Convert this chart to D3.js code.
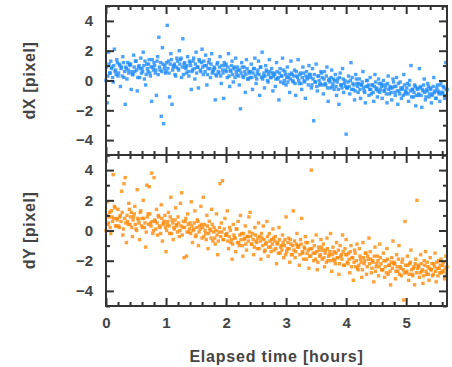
<!DOCTYPE html>
<html>
<head>
<meta charset="utf-8">
<script src="https://cdn.jsdelivr.net/npm/d3@7"></script>
<style>
body { margin: 0; background: #fff; }
text { font-family: "Liberation Sans", Arial, sans-serif; font-weight: bold; fill: #444; }
</style>
</head>
<body>
<svg width="452" height="367"></svg>
<script>
// elapsed time of each frame (hours), even frames
var hours = [
  0.00,0.02,0.04,0.06,0.08,0.10,0.12,0.14,0.16,0.18,
  0.20,0.22,0.24,0.26,0.28,0.30,0.32,0.34,0.36,0.38,
  0.40,0.42,0.44,0.46,0.48,0.50,0.52,0.54,0.56,0.58,
  0.60,0.62,0.64,0.66,0.68,0.70,0.72,0.74,0.76,0.78,
  0.80,0.82,0.84,0.86,0.88,0.90,0.92,0.94,0.96,0.98,
  1.00,1.02,1.04,1.06,1.08,1.10,1.12,1.14,1.16,1.18,
  1.20,1.22,1.24,1.26,1.28,1.30,1.32,1.34,1.36,1.38,
  1.40,1.42,1.44,1.46,1.48,1.50,1.52,1.54,1.56,1.58,
  1.60,1.62,1.64,1.66,1.68,1.70,1.72,1.74,1.76,1.78,
  1.80,1.82,1.84,1.86,1.88,1.90,1.92,1.94,1.96,1.98,
  2.00,2.02,2.04,2.06,2.08,2.10,2.12,2.14,2.16,2.18,
  2.20,2.22,2.24,2.26,2.28,2.30,2.32,2.34,2.36,2.38,
  2.40,2.42,2.44,2.46,2.48,2.50,2.52,2.54,2.56,2.58,
  2.60,2.62,2.64,2.66,2.68,2.70,2.72,2.74,2.76,2.78,
  2.80,2.82,2.84,2.86,2.88,2.90,2.92,2.94,2.96,2.98,
  3.00,3.02,3.04,3.06,3.08,3.10,3.12,3.14,3.16,3.18,
  3.20,3.22,3.24,3.26,3.28,3.30,3.32,3.34,3.36,3.38,
  3.40,3.42,3.44,3.46,3.48,3.50,3.52,3.54,3.56,3.58,
  3.60,3.62,3.64,3.66,3.68,3.70,3.72,3.74,3.76,3.78,
  3.80,3.82,3.84,3.86,3.88,3.90,3.92,3.94,3.96,3.98,
  4.00,4.02,4.04,4.06,4.08,4.10,4.12,4.14,4.16,4.18,
  4.20,4.22,4.24,4.26,4.28,4.30,4.32,4.34,4.36,4.38,
  4.40,4.42,4.44,4.46,4.48,4.50,4.52,4.54,4.56,4.58,
  4.60,4.62,4.64,4.66,4.68,4.70,4.72,4.74,4.76,4.78,
  4.80,4.82,4.84,4.86,4.88,4.90,4.92,4.94,4.96,4.98,
  5.00,5.02,5.04,5.06,5.08,5.10,5.12,5.14,5.16,5.18,
  5.20,5.22,5.24,5.26,5.28,5.30,5.32,5.34,5.36,5.38,
  5.40,5.42,5.44,5.46,5.48,5.50,5.52,5.54,5.56,5.58,
  5.60,5.62,5.64,5.66,5.68
];

// offset in X (pixel), even frames
var dX = [
  0.0,-1.5,1.9,0.5,1.3,0.9,-0.1,2.1,0.7,1.4,
  0.3,1.1,-0.4,0.9,1.6,0.2,-1.6,0.8,1.2,0.5,
  1.0,-0.6,0.4,1.7,0.6,1.3,-0.7,0.9,0.2,1.5,
  0.8,1.9,0.1,-0.3,1.1,0.6,1.4,0.3,-1.4,0.9,
  1.2,0.5,-1.0,1.6,2.9,0.7,-2.4,2.2,-2.9,1.0,
  0.6,3.7,1.3,-1.1,1.8,-1.6,0.9,1.1,0.3,1.5,
  0.8,2.0,1.4,0.2,2.8,1.1,0.9,0.5,1.6,0.3,
  1.2,-0.6,0.7,1.5,0.1,1.9,0.9,-0.5,1.3,0.6,
  2.1,0.4,1.0,1.7,-0.3,0.8,1.4,0.2,1.8,0.6,
  0.9,-1.3,0.3,1.2,0.5,1.6,-0.2,0.7,-1.2,1.0,
  1.1,0.2,1.8,-0.4,0.6,1.3,-0.1,0.9,1.5,0.4,
  0.7,-0.3,-1.9,1.2,0.3,0.9,-0.8,1.4,0.1,0.6,
  0.2,1.1,-0.6,0.8,1.5,-0.2,0.5,1.3,-1.0,0.9,
  1.9,0.3,-0.5,1.0,0.6,-0.1,1.4,0.2,0.8,-0.7,
  0.5,-0.4,1.2,0.1,-1.3,0.8,0.3,1.5,-0.2,0.6,
  -0.3,0.9,0.2,-0.8,1.3,0.4,-0.1,0.7,-1.0,0.3,
  1.4,-0.2,0.5,-0.6,0.9,0.0,-1.2,0.6,0.2,1.0,
  0.4,-0.5,0.8,-2.7,-0.1,1.1,-0.7,0.3,-0.3,0.6,
  0.2,-0.9,0.6,-0.3,0.9,-1.4,0.1,-0.5,0.7,-0.2,
  -0.6,0.4,-1.0,0.1,-1.6,0.5,-0.3,0.8,-0.8,0.0,
  -3.6,-0.5,0.3,-0.9,1.2,0.2,-0.6,-1.3,0.4,-0.2,
  -0.8,0.1,-1.2,-0.3,0.6,-0.7,-1.5,0.0,-0.4,-1.0,
  0.2,-0.9,-0.3,-1.4,0.4,-0.6,-1.1,0.1,-0.8,-0.2,
  -1.2,0.0,-0.7,-0.3,-1.5,0.3,-0.9,-0.5,-1.3,0.1,
  -0.4,-1.0,0.2,-1.6,-0.7,-0.1,-1.2,-0.5,0.4,-0.9,
  -0.8,-0.2,-1.4,0.0,1.0,-0.6,-1.1,-0.3,-1.7,-0.5,
  -1.0,0.8,-0.4,-1.8,-0.7,0.1,-1.3,-0.6,-0.2,-1.1,
  -0.5,-1.5,-0.9,0.2,-0.7,-1.2,-0.3,-0.8,-1.4,-0.1,
  -0.9,-0.4,-1.2,1.2,-0.6
];

// offset in Y (pixel), even frames
var dY = [
  0.0,1.9,0.5,1.2,-0.2,0.9,3.7,1.6,0.3,0.8,
  1.4,0.2,1.0,2.6,-0.3,3.1,3.5,-0.8,0.6,1.8,
  0.4,1.2,-0.4,0.9,1.6,0.1,2.7,0.7,-0.6,1.3,
  0.8,2.0,0.2,-1.1,3.0,1.1,2.9,0.5,3.8,-0.2,
  3.5,0.6,1.4,-0.3,0.9,0.2,1.7,-0.7,0.5,1.0,
  -1.4,0.4,1.2,-0.2,2.2,0.7,-0.6,0.1,1.5,0.3,
  0.9,-0.4,1.8,2.5,0.2,-1.8,0.6,-1.7,1.1,-0.1,
  0.5,1.9,-0.8,0.1,1.3,-0.3,0.7,-1.0,0.3,1.6,
  -0.5,2.2,0.4,-0.2,1.0,-1.2,0.6,0.0,1.4,-0.7,
  0.2,-0.9,1.1,-1.6,-0.1,3.1,0.5,3.3,-0.6,0.8,
  -0.3,1.3,-1.2,0.2,-0.8,-1.9,0.4,-0.5,-1.4,0.1,
  0.6,-1.0,1.0,-0.2,-1.7,-0.6,0.3,-1.3,-0.4,0.9,
  1.2,-0.9,-0.2,-1.6,0.2,-0.7,-1.2,0.5,-0.4,-1.9,
  -0.5,0.3,-1.4,-0.9,0.6,-1.7,-0.2,-1.1,-0.6,0.1,
  -1.3,-0.4,-2.2,-0.8,0.2,-1.5,-1.0,-0.3,-1.8,-0.6,
  0.9,-1.2,-0.5,-2.1,-0.9,-1.6,1.3,-0.7,-1.4,-0.2,
  -1.0,-2.3,-0.6,0.8,-1.5,-1.1,-0.4,-1.9,-0.8,-2.5,
  -1.2,4.0,-0.7,-2.0,-1.5,-0.3,-2.6,-1.1,-1.7,-0.6,
  -1.9,-0.9,-2.4,-1.3,-0.5,-2.0,-1.6,-0.2,-2.7,-1.1,
  -1.4,-2.2,-0.8,-1.8,-2.9,-1.0,-1.6,-0.3,-2.3,-1.2,
  -0.6,-2.1,-1.5,-2.8,-1.0,-1.8,-3.3,-1.3,-2.4,-0.9,
  -2.6,-1.2,-1.9,-3.1,-0.8,-2.2,-1.5,-2.9,-1.7,-0.5,
  -1.4,-2.8,-2.0,-3.4,-1.1,-2.4,-1.7,-3.0,-0.9,-2.2,
  -2.6,-1.5,-3.1,-2.0,-1.2,-2.9,-2.3,-3.6,-1.8,-0.7,
  -2.1,-3.2,-1.6,-2.7,-1.0,-2.4,-3.0,-1.9,-4.6,0.6,
  -2.8,-1.7,-3.3,-2.2,-1.3,-2.9,-2.5,-3.6,-1.9,2.0,
  -2.3,-3.1,-1.6,-2.7,-3.5,-2.0,-1.4,-2.9,-2.4,-3.3,
  -1.8,-2.6,-3.0,-2.2,-1.5,-3.4,-2.5,-2.0,-2.8,-1.9,
  -2.7,-2.1,-3.2,-1.7,-2.4
];

// odd frames
var hours2 = [
  0.01,0.03,0.05,0.07,0.09,0.11,0.13,0.15,0.17,0.19,
  0.21,0.23,0.25,0.27,0.29,0.31,0.33,0.35,0.37,0.39,
  0.41,0.43,0.45,0.47,0.49,0.51,0.53,0.55,0.57,0.59,
  0.61,0.63,0.65,0.67,0.69,0.71,0.73,0.75,0.77,0.79,
  0.81,0.83,0.85,0.87,0.89,0.91,0.93,0.95,0.97,0.99,
  1.01,1.03,1.05,1.07,1.09,1.11,1.13,1.15,1.17,1.19,
  1.21,1.23,1.25,1.27,1.29,1.31,1.33,1.35,1.37,1.39,
  1.41,1.43,1.45,1.47,1.49,1.51,1.53,1.55,1.57,1.59,
  1.61,1.63,1.65,1.67,1.69,1.71,1.73,1.75,1.77,1.79,
  1.81,1.83,1.85,1.87,1.89,1.91,1.93,1.95,1.97,1.99,
  2.01,2.03,2.05,2.07,2.09,2.11,2.13,2.15,2.17,2.19,
  2.21,2.23,2.25,2.27,2.29,2.31,2.33,2.35,2.37,2.39,
  2.41,2.43,2.45,2.47,2.49,2.51,2.53,2.55,2.57,2.59,
  2.61,2.63,2.65,2.67,2.69,2.71,2.73,2.75,2.77,2.79,
  2.81,2.83,2.85,2.87,2.89,2.91,2.93,2.95,2.97,2.99,
  3.01,3.03,3.05,3.07,3.09,3.11,3.13,3.15,3.17,3.19,
  3.21,3.23,3.25,3.27,3.29,3.31,3.33,3.35,3.37,3.39,
  3.41,3.43,3.45,3.47,3.49,3.51,3.53,3.55,3.57,3.59,
  3.61,3.63,3.65,3.67,3.69,3.71,3.73,3.75,3.77,3.79,
  3.81,3.83,3.85,3.87,3.89,3.91,3.93,3.95,3.97,3.99,
  4.01,4.03,4.05,4.07,4.09,4.11,4.13,4.15,4.17,4.19,
  4.21,4.23,4.25,4.27,4.29,4.31,4.33,4.35,4.37,4.39,
  4.41,4.43,4.45,4.47,4.49,4.51,4.53,4.55,4.57,4.59,
  4.61,4.63,4.65,4.67,4.69,4.71,4.73,4.75,4.77,4.79,
  4.81,4.83,4.85,4.87,4.89,4.91,4.93,4.95,4.97,4.99,
  5.01,5.03,5.05,5.07,5.09,5.11,5.13,5.15,5.17,5.19,
  5.21,5.23,5.25,5.27,5.29,5.31,5.33,5.35,5.37,5.39,
  5.41,5.43,5.45,5.47,5.49,5.51,5.53,5.55,5.57,5.59,
  5.61,5.63,5.65,5.67
];

var dX2 = [
  0.9,0.3,1.1,0.5,0.8,0.2,1.0,0.6,0.4,1.2,
  0.5,1.0,0.8,0.3,1.2,0.6,0.9,0.1,0.7,1.1,
  1.1,0.6,0.4,0.9,1.3,0.7,0.2,1.0,0.8,0.5,
  0.6,1.0,1.3,0.4,0.8,1.1,0.5,0.9,1.4,0.7,
  1.0,0.7,1.3,0.4,0.9,1.2,0.6,1.1,0.8,0.5,
  1.2,0.8,0.5,1.1,1.4,0.7,1.0,0.4,0.9,1.3,
  0.7,1.1,1.5,0.9,0.4,1.2,0.8,1.0,0.6,1.3,
  1.0,0.6,1.3,0.8,1.1,0.5,0.9,1.4,0.7,1.2,
  0.9,1.3,0.6,1.0,0.4,1.2,0.8,1.1,0.5,0.7,
  0.8,0.4,1.1,0.6,0.9,0.3,1.0,0.5,1.2,0.7,
  0.6,0.9,0.3,0.7,1.0,0.4,0.8,0.2,0.6,0.9,
  0.3,0.7,0.5,0.9,0.2,0.6,0.4,0.8,0.1,0.5,
  0.6,0.2,0.5,0.8,0.3,0.1,0.7,0.4,0.9,0.2,
  0.1,0.5,0.3,0.7,0.0,0.4,0.6,0.2,0.5,0.3,
  0.4,0.1,0.6,0.2,0.5,-0.1,0.3,0.7,0.0,0.4,
  0.2,-0.1,0.4,0.1,0.5,0.0,0.3,-0.2,0.6,0.2,
  0.0,0.4,-0.2,0.2,0.5,-0.1,0.3,0.1,-0.3,0.4,
  0.2,-0.3,0.1,0.4,-0.1,-0.4,0.3,0.0,-0.2,0.5,
  -0.3,0.1,-0.2,0.3,-0.5,0.0,-0.1,0.2,-0.4,0.1,
  0.0,-0.4,-0.1,-0.6,0.2,-0.3,-0.5,0.1,-0.2,-0.4,
  -0.5,-0.1,-0.4,0.0,-0.6,-0.2,-0.3,-0.7,0.1,-0.4,
  -0.2,-0.6,-0.3,-0.1,-0.5,-0.8,-0.4,0.0,-0.3,-0.6,
  -0.6,-0.3,-0.8,-0.4,-0.1,-0.5,-0.7,-0.2,-0.6,-0.4,
  -0.3,-0.7,-0.5,-0.9,-0.2,-0.6,-0.4,-0.8,-0.5,-0.1,
  -0.8,-0.4,-0.7,-0.2,-0.9,-0.5,-0.6,-1.0,-0.3,-0.7,
  -0.5,-0.9,-0.3,-0.7,-1.1,-0.6,-0.8,-0.4,-1.0,-0.6,
  -0.9,-0.5,-1.0,-0.6,-0.3,-0.8,-1.1,-0.7,-0.4,-0.9,
  -0.6,-1.0,-0.4,-0.8,-1.2,-0.5,-0.7,-0.9,-0.3,-0.8,
  -0.8,-0.5,-1.0,-0.6
];

var dY2 = [
  1.0,0.4,0.9,0.2,1.3,0.6,0.8,1.5,0.3,0.7,
  0.3,0.9,0.6,1.2,0.1,0.8,0.5,1.0,0.4,1.4,
  0.9,0.2,0.7,1.1,0.4,0.0,0.8,0.5,1.2,0.3,
  0.2,0.8,0.5,-0.1,0.9,0.4,1.1,0.3,0.6,0.0,
  0.7,0.1,0.5,1.0,0.3,-0.2,0.8,0.4,0.6,0.2,
  0.0,0.6,0.3,0.9,-0.2,0.5,0.2,0.7,0.4,-0.1,
  0.5,0.0,0.3,-0.3,0.6,0.2,0.8,-0.1,0.4,0.1,
  -0.2,0.3,0.0,0.5,-0.4,0.2,0.6,-0.1,0.1,0.4,
  0.2,-0.4,0.0,-0.6,0.3,-0.2,0.1,-0.5,0.4,-0.1,
  -0.5,0.0,-0.3,-0.7,0.2,-0.4,-0.1,-0.6,0.1,-0.3,
  -0.2,-0.7,-0.4,0.0,-0.6,-0.9,-0.3,-0.5,0.1,-0.8,
  -0.8,-0.3,-0.6,-1.0,-0.2,-0.5,-0.9,-0.4,-0.7,-0.1,
  -0.4,-0.9,-0.6,-1.1,-0.3,-0.8,-0.5,-1.2,-0.7,-0.2,
  -1.0,-0.6,-1.3,-0.8,-0.4,-1.1,-0.7,-1.4,-0.9,-0.5,
  -0.7,-1.2,-0.9,-1.5,-0.6,-1.1,-1.3,-0.8,-1.0,-1.6,
  -1.4,-0.8,-1.2,-0.6,-1.6,-1.0,-1.3,-1.8,-0.9,-1.1,
  -1.1,-1.6,-0.9,-1.4,-1.9,-1.2,-0.8,-1.5,-1.3,-1.7,
  -1.7,-1.2,-1.5,-1.0,-1.9,-1.4,-2.1,-1.3,-1.6,-1.1,
  -1.3,-1.8,-1.5,-2.1,-1.2,-1.7,-1.4,-2.0,-1.6,-1.9,
  -2.0,-1.5,-1.8,-1.3,-2.2,-1.7,-1.9,-1.4,-2.3,-1.6,
  -1.6,-2.2,-1.9,-1.4,-2.4,-1.8,-2.1,-1.5,-2.0,-2.5,
  -2.3,-1.7,-2.1,-2.6,-1.8,-2.0,-1.5,-2.4,-1.9,-2.2,
  -1.9,-2.5,-2.1,-1.7,-2.7,-2.2,-2.0,-2.4,-1.8,-2.6,
  -2.6,-2.0,-2.4,-2.8,-1.9,-2.3,-2.7,-2.1,-2.5,-2.2,
  -2.2,-2.7,-2.4,-1.9,-2.9,-2.5,-2.1,-2.6,-2.8,-2.3,
  -2.7,-2.3,-2.9,-2.1,-2.6,-3.0,-2.4,-2.2,-2.8,-2.5,
  -2.4,-2.8,-2.2,-2.6,-3.0,-2.3,-2.7,-2.1,-2.9,-2.5,
  -2.6,-2.2,-2.9,-2.4,-2.7,-2.1,-3.0,-2.5,-2.3,-2.8,
  -2.3,-2.7,-2.5,-2.9
];

var xTickLabels = [0, 1, 2, 3, 4, 5];
var yTickLabels = [-4, -2, 0, 2, 4];

var svg = d3.select("svg");
var left = 106, right = 447;

var x = d3.scaleLinear().domain([0, 5.68]).range([left, right]);
var xMinor = x.ticks(30).filter(function(d) { return Math.abs(d - Math.round(d)) > 1e-6; });

var panels = [
  { name: "dX [pixel]", values: dX.concat(dX2), color: "#1e8cff", top: 6, bottom: 155 },
  { name: "dY [pixel]", values: dY.concat(dY2), color: "#ff8a0a", top: 155, bottom: 306 }
];
var allHours = hours.concat(hours2);

panels.forEach(function(p, i) {
  var y = d3.scaleLinear().domain([-5, 5]).range([p.bottom, p.top]);
  var yMinor = y.ticks(10).filter(function(d) { return Math.abs(d % 2) === 1; });

  var pts = allHours.map(function(h, k) { return { t: h, v: p.values[k] }; });

  svg.append("g")
    .selectAll("rect")
    .data(pts)
    .enter().append("rect")
    .attr("x", function(d) { return x(d.t) - 1.7; })
    .attr("y", function(d) { return y(d.v) - 1.7; })
    .attr("width", 3.4)
    .attr("height", 3.4)
    .attr("fill", p.color)
    .attr("fill-opacity", 0.8);

  // inward ticks on all four sides
  tickAxis(d3.axisTop(x), xTickLabels, 8, "translate(0," + p.bottom + ")");
  tickAxis(d3.axisTop(x), xMinor, 4, "translate(0," + p.bottom + ")");
  tickAxis(d3.axisBottom(x), xTickLabels, 8, "translate(0," + p.top + ")");
  tickAxis(d3.axisBottom(x), xMinor, 4, "translate(0," + p.top + ")");
  tickAxis(d3.axisRight(y), yTickLabels, 8, "translate(" + left + ",0)");
  tickAxis(d3.axisRight(y), yMinor, 4, "translate(" + left + ",0)");
  tickAxis(d3.axisLeft(y), yTickLabels, 8, "translate(" + right + ",0)");
  tickAxis(d3.axisLeft(y), yMinor, 4, "translate(" + right + ",0)");

  svg.append("rect")
    .attr("x", left).attr("y", p.top)
    .attr("width", right - left).attr("height", p.bottom - p.top)
    .attr("fill", "none")
    .attr("stroke", "#333")
    .attr("stroke-width", 2);

  // tick labels
  var ly = svg.append("g")
    .attr("transform", "translate(" + left + ",0)")
    .call(d3.axisLeft(y).tickValues(yTickLabels).tickSize(0).tickPadding(13)
      .tickFormat(function(d) { return d < 0 ? "\u2212" + Math.abs(d) : d; }));
  ly.select(".domain").remove();
  ly.selectAll("text").attr("font-size", 15).attr("font-family", null);

  svg.append("text")
    .attr("transform", "translate(35," + (p.top + p.bottom) / 2 + ") rotate(-90)")
    .attr("text-anchor", "middle")
    .attr("font-size", 16)
    .attr("letter-spacing", 0.6)
    .text(p.name);
});

var lx = svg.append("g")
  .attr("transform", "translate(0,306)")
  .call(d3.axisBottom(x).tickValues(xTickLabels).tickSize(0).tickPadding(11)
    .tickFormat(d3.format("d")));
lx.select(".domain").remove();
lx.selectAll("text").attr("font-size", 15).attr("font-family", null);

svg.append("text")
  .attr("x", (left + right) / 2)
  .attr("y", 362)
  .attr("text-anchor", "middle")
  .attr("font-size", 16)
  .attr("letter-spacing", 0.8)
  .text("Elapsed time [hours]");

function tickAxis(gen, values, size, transform) {
  var g = svg.append("g")
    .attr("transform", transform)
    .attr("color", "#333")
    .call(gen.tickValues(values).tickSize(size).tickFormat(""));
  g.select(".domain").remove();
  g.selectAll("line").attr("stroke-width", 2);
}
</script>
</body>
</html>
